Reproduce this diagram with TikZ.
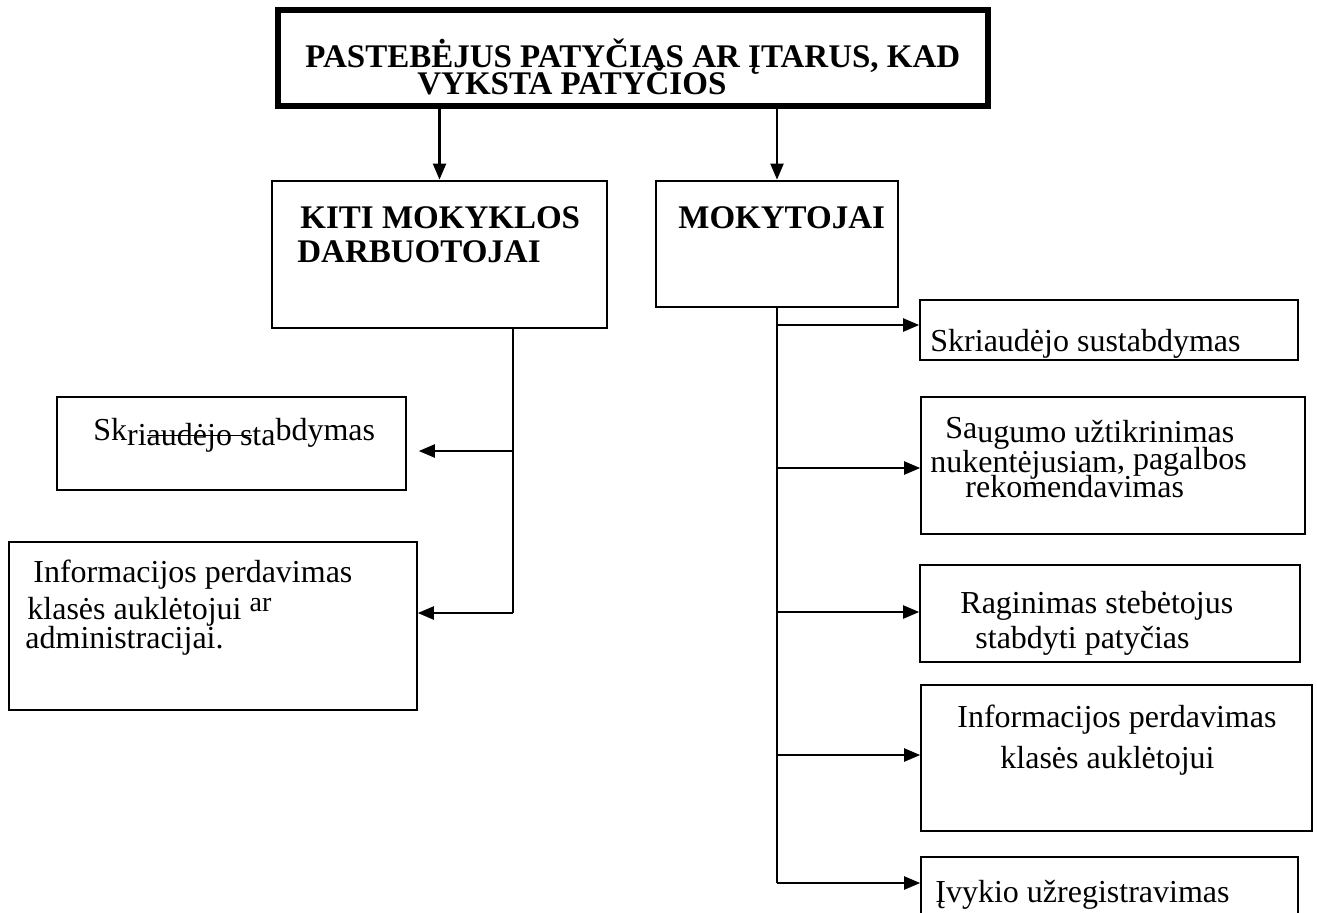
\documentclass[tikz,border=0pt]{standalone}
\usepackage{fontspec}
\setmainfont{Liberation Serif}
\usetikzlibrary{arrows.meta, positioning}

\newsavebox\strkbox
\newcommand\strk[1]{\sbox\strkbox{#1}\rlap{\rule[0.27em]{\wd\strkbox}{0.7pt}}\usebox\strkbox}

\tikzset{
  box/.style={draw, line width=.8pt, inner sep=0pt},
  headbox/.style={draw, line width=1.4pt, inner sep=0pt},
  txt/.style={anchor=base west, inner sep=0pt, font=\fontsize{16}{18}\selectfont},
  head/.style={anchor=base west, inner sep=0pt, font=\fontsize{16.5}{18}\selectfont\bfseries},
  link/.style={line width=1.1pt},
  arrow/.style={link, -{Triangle[length=8pt,width=6.5pt]}}
}

\begin{document}
\begin{tikzpicture}[x=0.5pt, y=-0.5pt]
  \clip (0,0) rectangle (1317,912);

  % boxes
  \node[headbox, line width=2.8pt, minimum width=355pt, minimum height=48pt] (title) at (633,58) {};
  \node[headbox, minimum width=167.5pt, minimum height=73.5pt] (kiti) at (439.5,254.5) {};
  \node[headbox, minimum width=121pt, minimum height=63pt] (moky) at (777,244) {};

  \node[box, minimum width=189pt, minimum height=30pt] (r1) at (1109,330) {};
  \node[box, minimum width=192pt, minimum height=68.5pt] (r2) at (1113,465.5) {};
  \node[box, minimum width=190pt, minimum height=48.5pt] (r3) at (1110,613.5) {};
  \node[box, minimum width=195.5pt, minimum height=73pt] (r4) at (1116.5,758) {};
  \node[box, minimum width=188.5pt, minimum height=60pt] (r5) at (1109.5,917) {};

  \node[box, minimum width=174.5pt, minimum height=46.5pt] (l1) at (231.5,443.5) {};
  \node[box, minimum width=204pt, minimum height=84pt] (l2) at (213,626) {};

  % texts
  \node[head] (title-a) at (305,67) {PASTEBĖJUS PATYČIAS AR ĮTARUS, KAD};
  \node[head] (title-b) at (417,94) {VYKSTA PATYČIOS};
  \node[head] (kiti-a) at (300,228) {KITI MOKYKLOS};
  \node[head] (kiti-b) at (297,262) {DARBUOTOJAI};
  \node[head] (moky-a) at (678,228) {MOKYTOJAI};

  \node[txt] (r1-a) at (930,351) {Skriaudėjo sustabdymas};
  \node[txt] (r2-a) at (945,442) {\raisebox{2pt}{Sa}ugumo užtikrinimas};
  \node[txt] (r2-b) at (930,472) {nukentėjusiam\raisebox{1.5pt}{, pagalbos}};
  \node[txt] (r2-c) at (965,497) {rekomendavimas};
  \node[txt] (r3-a) at (960,613) {Raginimas stebėtojus};
  \node[txt] (r3-b) at (975,648) {stabdyti patyčias};
  \node[txt] (r4-a) at (957,727) {Informacijos perdavimas};
  \node[txt] (r4-b) at (1000,768) {klasės auklėtojui};
  \node[txt] (r5-a) at (935,902) {Įvykio užregistravimas};

  \node[txt] (l1-a) at (93,440) {Sk\raisebox{-2.5pt}{ri\strk{audėjo s}ta}bdymas};
  \node[txt] (l2-a) at (33,582) {Informacijos perdavimas};
  \node[txt] (l2-b) at (27,619) {klasės auklėtojui \raisebox{4pt}{\fontsize{14}{14}\selectfont ar}};
  \node[txt] (l2-c) at (25,648) {administracijai.};

  % connectors
  \draw[arrow] (title.south -| kiti.north) -- (kiti.north);
  \draw[arrow] (title.south -| moky.north) -- (moky.north);

  \coordinate (m1) at (777,325);
  \coordinate (m2) at (777,468);
  \coordinate (m3) at (777,612);
  \coordinate (m4) at (777,755);
  \coordinate (m5) at (777,883);
  \draw[link] (moky.south) -- (m5);
  \foreach \i in {1,...,5}
    \draw[arrow] (m\i) -- (m\i -| r\i.west);

  \coordinate (k1) at (513,451);
  \coordinate (k2) at (513,613);
  \draw[link] (kiti.south -| k1) -- (k2);
  \draw[arrow, shorten >=6pt] (k1) -- (k1 -| l1.east);
  \draw[arrow] (k2) -- (k2 -| l2.east);
\end{tikzpicture}
\end{document}
